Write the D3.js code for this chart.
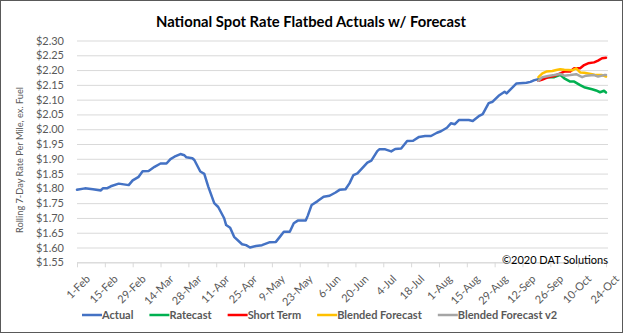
<!DOCTYPE html>
<html>
<head>
<meta charset="utf-8">
<script src="https://cdn.jsdelivr.net/npm/d3@7"></script>
<style>
  body { margin: 0; background: #fff; }
  text { font-family: Lato, "Open Sans", sans-serif; }
</style>
</head>
<body>
<svg id="chart" width="623" height="333"></svg>
<script>
// values (dates are m/d in 2020)
var actualDates = ["2/1","2/5","2/9","2/13","2/14","2/16","2/18","2/22","2/27","2/29","3/3","3/5","3/8","3/11","3/14","3/17","3/19","3/21","3/24","3/26","3/27","3/30","3/31","4/3","4/5","4/7","4/10","4/12","4/15","4/16","4/18","4/20","4/24","4/26","4/28","5/1","5/4","5/8","5/11","5/13","5/15","5/18","5/20","5/22","5/26","5/27","5/29","6/1","6/4","6/7","6/10","6/12","6/15","6/17","6/19","6/21","6/26","6/28","7/1","7/2","7/5","7/8","7/10","7/13","7/16","7/19","7/22","7/25","7/28","7/31","8/2","8/5","8/7","8/9","8/11","8/16","8/18","8/21","8/23","8/26","8/28","8/31","9/3","9/4","9/6","9/9","9/14","9/16","9/18","9/20"];
var actualValues = [1.795,1.800,1.797,1.793,1.800,1.800,1.807,1.816,1.811,1.827,1.839,1.858,1.859,1.873,1.884,1.884,1.899,1.907,1.916,1.912,1.905,1.902,1.896,1.857,1.849,1.806,1.750,1.737,1.699,1.676,1.667,1.636,1.611,1.608,1.600,1.605,1.608,1.618,1.619,1.636,1.653,1.653,1.682,1.691,1.691,1.707,1.744,1.757,1.772,1.775,1.786,1.795,1.797,1.817,1.845,1.851,1.887,1.894,1.926,1.932,1.932,1.925,1.933,1.935,1.960,1.961,1.974,1.977,1.977,1.988,1.993,2.005,2.020,2.017,2.031,2.031,2.028,2.044,2.051,2.088,2.093,2.113,2.127,2.121,2.135,2.155,2.157,2.160,2.166,2.169];

var ratecastDates = ["9/20","9/22","9/25","9/28","10/1","10/3","10/6","10/8","10/11","10/13","10/17","10/19","10/21","10/23","10/24"];
var ratecastValues = [2.166,2.172,2.176,2.176,2.184,2.172,2.161,2.161,2.149,2.142,2.135,2.131,2.125,2.130,2.124];

var shortTermDates = ["9/20","9/22","9/25","9/28","10/1","10/3","10/6","10/8","10/11","10/13","10/15","10/18","10/20","10/22","10/24"];
var shortTermValues = [2.164,2.168,2.176,2.180,2.189,2.195,2.195,2.206,2.206,2.217,2.223,2.226,2.232,2.240,2.242];

var blendedDates = ["9/20","9/22","9/24","9/27","9/29","10/1","10/3","10/7","10/9","10/11","10/13","10/17","10/19","10/22","10/24"];
var blendedValues = [2.176,2.189,2.195,2.197,2.200,2.203,2.201,2.199,2.206,2.192,2.191,2.186,2.183,2.183,2.178];

var blendedV2Dates = ["9/20","9/22","9/25","9/28","10/1","10/3","10/6","10/9","10/12","10/14","10/18","10/20","10/23","10/24"];
var blendedV2Values = [2.164,2.176,2.180,2.183,2.187,2.181,2.183,2.186,2.176,2.181,2.183,2.178,2.183,2.183];

var tickDates = ["2/1","2/15","2/29","3/14","3/28","4/11","4/25","5/9","5/23","6/6","6/20","7/4","7/18","8/1","8/15","8/29","9/12","9/26","10/10","10/24"];
var yTicks = [1.55,1.60,1.65,1.70,1.75,1.80,1.85,1.90,1.95,2.00,2.05,2.10,2.15,2.20,2.25,2.30];

var parse = d3.timeParse("%m/%d/%Y");
function toDate(s) { return parse(s + "/2020"); }

var series = [
    {name: "Actual",             color: "#4472C4", dates: actualDates,    values: actualValues},
    {name: "Ratecast",           color: "#00B050", dates: ratecastDates,  values: ratecastValues},
    {name: "Short Term",         color: "#FF0000", dates: shortTermDates, values: shortTermValues},
    {name: "Blended Forecast",   color: "#FFC000", dates: blendedDates,   values: blendedValues},
    {name: "Blended Forecast v2",color: "#A5A5A5", dates: blendedV2Dates, values: blendedV2Values}
];

var svg = d3.select("#chart");

// outer frame
svg.append("rect")
    .attr("x", 0.5).attr("y", 0.5)
    .attr("width", 622).attr("height", 332)
    .attr("fill", "#fff")
    .attr("stroke", "#595959");

var x = d3.scaleTime()
    .domain([toDate("2/1"), toDate("10/25")])
    .range([77, 608]);

var y = d3.scaleLinear()
    .domain([1.55, 2.30])
    .range([262.3, 40.5]);

// gridlines + y labels
var yAxis = d3.axisLeft(y)
    .tickValues(yTicks)
    .tickFormat(d3.format("$.2f"))
    .tickSize(-(608 - 77))
    .tickPadding(13);

var gy = svg.append("g")
    .attr("transform", "translate(77,0)")
    .call(yAxis);
gy.select(".domain").remove();
gy.selectAll(".tick line").attr("stroke", "#D9D9D9");
gy.selectAll(".tick text")
    .attr("fill", "#595959")
    .style("font-size", "11px");

// x axis
var xAxis = d3.axisBottom(x)
    .tickValues(tickDates.map(toDate))
    .tickFormat(d3.timeFormat("%-d-%b"))
    .tickSizeInner(5)
    .tickSizeOuter(0);

var gx = svg.append("g")
    .attr("transform", "translate(0,262.3)")
    .call(xAxis);
gx.select(".domain").attr("stroke", "#D9D9D9");
gx.selectAll(".tick line").attr("stroke", "#D9D9D9");
gx.selectAll(".tick text")
    .attr("fill", "#595959")
    .style("font-size", "11px")
    .attr("text-anchor", "end")
    .attr("dy", "0.35em")
    .attr("transform", "translate(5,9) rotate(-45)");

// lines
var line = d3.line()
    .x(function(d) { return x(d[0]); })
    .y(function(d) { return y(d[1]); });

series.forEach(function(s) {
    var pts = s.dates.map(function(d, i) { return [toDate(d), s.values[i]]; });
    svg.append("path")
        .datum(pts)
        .attr("d", line)
        .attr("fill", "none")
        .attr("stroke", s.color)
        .attr("stroke-width", 2.5)
        .attr("stroke-linejoin", "round")
        .attr("stroke-linecap", "round");
});

// title
svg.append("text")
    .attr("x", 311).attr("y", 27)
    .attr("text-anchor", "middle")
    .style("font-size", "15px")
    .style("font-weight", "bold")
    .attr("fill", "#000")
    .attr("textLength", 310)
    .attr("lengthAdjust", "spacingAndGlyphs")
    .text("National Spot Rate Flatbed Actuals w/ Forecast");

// y axis title
svg.append("text")
    .attr("transform", "translate(23,160) rotate(-90)")
    .attr("text-anchor", "middle")
    .style("font-size", "10px")
    .attr("fill", "#595959")
    .attr("textLength", 146)
    .attr("lengthAdjust", "spacingAndGlyphs")
    .text("Rolling 7-Day Rate Per Mile, ex. Fuel");

// copyright
svg.append("text")
    .attr("x", 608).attr("y", 264)
    .attr("text-anchor", "end")
    .style("font-size", "11px")
    .attr("fill", "#000")
    .text("\u00A92020 DAT Solutions");

// legend
var lx = 82;
series.forEach(function(s) {
    svg.append("line")
        .attr("x1", lx).attr("x2", lx + 20)
        .attr("y1", 315).attr("y2", 315)
        .attr("stroke", s.color)
        .attr("stroke-width", 2.5);
    var t = svg.append("text")
        .attr("x", lx + 20).attr("y", 319)
        .style("font-size", "11px")
        .style("font-weight", "bold")
        .attr("fill", "#595959")
        .text(s.name);
    lx += 20 + t.node().getComputedTextLength() + 16;
});
</script>
</body>
</html>
